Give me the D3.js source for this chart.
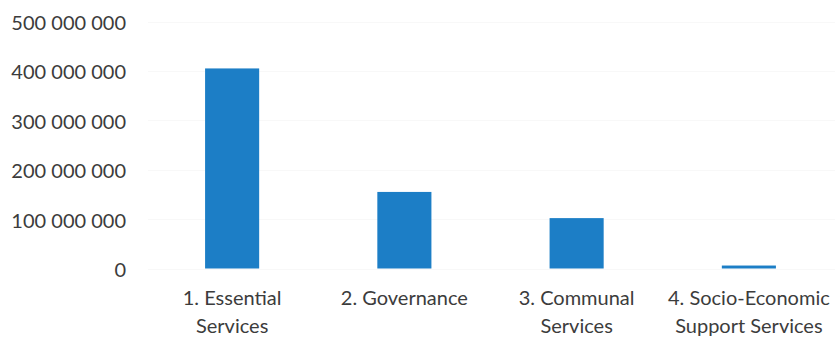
<!DOCTYPE html>
<html>
<head>
<meta charset="utf-8">
<script src="https://cdn.jsdelivr.net/npm/d3@7"></script>
<style>
  body { margin: 0; background: #fff; }
  text { font-family: Lato, "Open Sans", sans-serif; fill: #3c3c3c; }
</style>
</head>
<body>
<div id="chart"></div>
<script>
const categories = ["1. Essential Services", "2. Governance", "3. Communal Services", "4. Socio-Economic Support Services"];
const categoryLines = [["1. Essential", "Services"], ["2. Governance"], ["3. Communal", "Services"], ["4. Socio-Economic", "Support Services"]];
const values = [405000000, 155000000, 102000000, 6000000];
const yTicks = [0, 100000000, 200000000, 300000000, 400000000, 500000000];

const width = 839,
      height = 341;

const svg = d3.select("#chart")
    .append("svg")
    .attr("width", width)
    .attr("height", height);

const x = d3.scaleBand()
    .domain(categories)
    .range([146, 835])
    .paddingInner(0.686)
    .paddingOuter(0.343);

const y = d3.scaleLinear()
    .domain([0, 500000000])
    .range([268.5, 21.5]);

const fmt = v => d3.format(",")(v).replace(/,/g, " ");

// gridlines are barely visible in the original
svg.append("g")
    .selectAll("line")
    .data(yTicks)
    .join("line")
    .attr("x1", 148)
    .attr("x2", 835)
    .attr("y1", d => Math.round(y(d)) + 0.5)
    .attr("y2", d => Math.round(y(d)) + 0.5)
    .attr("stroke", "#f8f8f8")
    .attr("stroke-width", 1);

const yAxis = d3.axisLeft(y)
    .tickValues(yTicks)
    .tickFormat(fmt)
    .tickSize(0)
    .tickPadding(0);

svg.append("g")
    .attr("transform", "translate(126,1.5)")
    .call(yAxis)
    .call(g => g.select(".domain").remove())
    .selectAll("text")
    .attr("font-size", "20px")
    .attr("font-family", "Lato, sans-serif")
    .attr("fill", "#3c3c3c");

svg.append("g")
    .selectAll("rect")
    .data(values)
    .join("rect")
    .attr("x", (d, i) => x(categories[i]))
    .attr("width", x.bandwidth())
    .attr("y", d => y(d))
    .attr("height", d => y(0) - y(d))
    .attr("fill", "#1c7ec6");

const labels = svg.append("g")
    .selectAll("text")
    .data(categories)
    .join("text")
    .attr("text-anchor", "middle")
    .attr("font-size", "20px")
    .attr("x", d => x(d) + x.bandwidth() / 2)
    .attr("y", 305);

labels.selectAll("tspan")
    .data((d, i) => categoryLines[i])
    .join("tspan")
    .attr("x", function() { return this.parentNode.getAttribute("x"); })
    .attr("dy", (d, i) => i === 0 ? 0 : 28)
    .text(d => d);
</script>
</body>
</html>
